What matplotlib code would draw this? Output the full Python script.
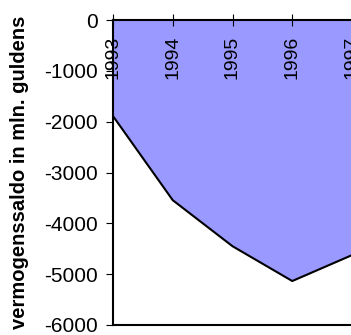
import matplotlib.pyplot as plt

plt.rcParams['font.family'] = ['Liberation Sans', 'DejaVu Sans']
plt.rcParams['axes.unicode_minus'] = False

# vermogenssaldo per jaar (mln. gulden)
years = [1993, 1994, 1995, 1996, 1997]
saldo = [-1890, -3545, -4450, -5135, -4625]
year_labels = ['1993', '1994', '1995', '1996', '1997']

fig = plt.figure(figsize=(3.51, 3.35), dpi=100)
ax = fig.add_axes([113 / 351, 10 / 335, 239 / 351, 305 / 335])

# year axis sits on the zero line, labels hang inside the plot
ax.spines['bottom'].set_position(('data', 0))
ax.spines['top'].set_visible(False)
ax.spines['right'].set_visible(False)
for s in ['left', 'bottom']:
    ax.spines[s].set_linewidth(1.5)

ax.fill_between(years, saldo, 0, color='#9999FF', linewidth=0)
ax.plot(years, saldo, color='black', linewidth=1.5)
ax.axhline(-6000, color='black', linewidth=1.5, clip_on=False)

ax.set_xlim(1993, 1997)
ax.set_ylim(-6000, 0)
ax.set_yticks(range(-6000, 1, 1000))
ax.set_xticks(years)
ax.set_xticklabels(year_labels, rotation=90, va='top', ha='center')

ax.tick_params(axis='x', direction='inout', length=8, width=0.8, pad=7, labelsize=14)
ax.tick_params(axis='y', direction='out', length=5, width=0.8, pad=6, labelsize=15)

ax.set_ylabel('vermogenssaldo in mln. guldens', fontsize=14.5, fontweight='bold')
ax.yaxis.set_label_coords(-84 / 239, 0.5)

plt.savefig('out.png', dpi=100)
